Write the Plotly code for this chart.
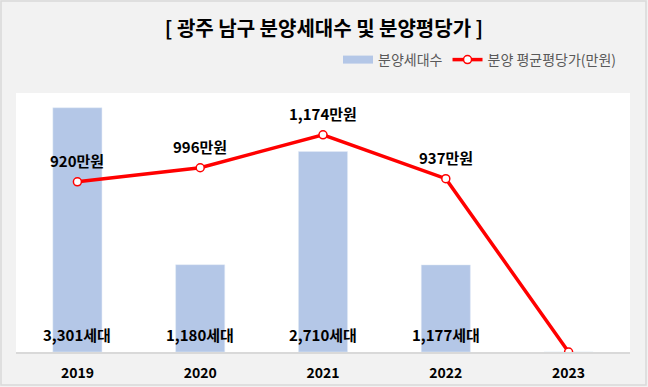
import plotly.graph_objects as go

years = ["2019", "2020", "2021", "2022", "2023"]
units = [3301, 1180, 2710, 1177, 0]
price = [920, 996, 1174, 937, 0]
unit_labels = ["3,301세대", "1,180세대", "2,710세대", "1,177세대", ""]
price_labels = ["920만원", "996만원", "1,174만원", "937만원", ""]

FONT = "Noto Sans CJK KR"
BAR_COLOR = "#b4c7e7"
xpos = list(range(len(years)))

fig = go.Figure()
fig.add_trace(go.Bar(
    x=xpos, y=units, name="분양세대수",
    marker=dict(color=BAR_COLOR), width=0.4,
    hoverinfo="skip", showlegend=False,
))
# legend-only entry mimicking the wide bar swatch
fig.add_trace(go.Scatter(
    x=[None], y=[None], name="분양세대수", mode="lines",
    line=dict(color=BAR_COLOR, width=8), hoverinfo="skip",
))
fig.add_trace(go.Scatter(
    x=xpos, y=price, name="분양 평균평당가(만원)", yaxis="y2",
    mode="lines+markers",
    line=dict(color="#ff0000", width=3.5),
    marker=dict(size=8, color="white", line=dict(color="#ff0000", width=1.5)),
    hoverinfo="skip",
))

annotations = []
for x, y, t in zip(xpos, units, unit_labels):
    if t:
        annotations.append(dict(x=x, y=0, xref="x", yref="y", text="<b>" + t + "</b>", showarrow=False,
                                yshift=18, font=dict(family=FONT, size=15, color="#000000")))
for x, y, t in zip(xpos, price, price_labels):
    if t:
        annotations.append(dict(x=x, y=y, xref="x", yref="y2", text="<b>" + t + "</b>", showarrow=False,
                                yshift=21, font=dict(family=FONT, size=15, color="#000000")))

fig.update_layout(
    width=648, height=387,
    paper_bgcolor="#f2f2f2", plot_bgcolor="white",
    margin=dict(l=16, r=18, t=93, b=35),
    font=dict(family=FONT, color="#000000"),
    title=dict(text="<b>[ 광주 남구 분양세대수 및 분양평당가 ]</b>", x=0.5, xanchor="center",
               y=1 - 29 / 387, yanchor="middle", font=dict(size=20, family=FONT, color="#000000")),
    legend=dict(orientation="h", x=(622 - 16) / 614, xanchor="right", y=1 + 33 / 259, yanchor="middle",
                bgcolor="rgba(0,0,0,0)", font=dict(size=14, color="#595959", family=FONT),
                itemwidth=30, traceorder="normal"),
    xaxis=dict(range=[-0.5, len(years) - 0.5], tickvals=xpos, ticktext=["<b>" + y + "</b>" for y in years],
               showgrid=False, zeroline=False, showline=True, linecolor="#d9d9d9", linewidth=1.5,
               automargin=False,
               ticks="", ticklabelstandoff=7, tickfont=dict(size=14, family=FONT, color="#000000")),
    yaxis=dict(range=[0, 3500], visible=False, showgrid=False, automargin=False),
    yaxis2=dict(range=[0, 1400], overlaying="y", visible=False, showgrid=False, automargin=False),
    annotations=annotations,
    showlegend=True,
)
fig.add_shape(type="rect", xref="paper", yref="paper",
              x0=-15 / 614, x1=1 + 16 / 614, y0=-33 / 259, y1=1 + 92 / 259,
              line=dict(color="#d9d9d9", width=1.5), fillcolor="rgba(0,0,0,0)", layer="above")
fig.write_html("out.html", config={"displayModeBar": False},
               post_script="document.body.style.margin='0';")
